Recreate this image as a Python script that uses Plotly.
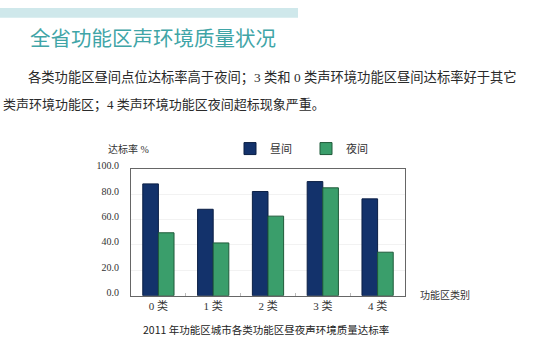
import plotly.graph_objects as go

categories = ["0 类", "1 类", "2 类", "3 类", "4 类"]
day_values = [88.0, 68.0, 82.0, 89.8, 76.2]
night_values = [49.5, 41.5, 62.6, 84.9, 34.2]
y_ticks = [0, 20, 40, 60, 80, 100]
y_tick_labels = ["0.0", "20.0", "40.0", "60.0", "80.0", "100.0"]

W, H = 545, 360
serif = "Liberation Serif, Noto Sans CJK SC, serif"
cjk = "Noto Sans CJK SC, sans-serif"

fig = go.Figure()
fig.add_trace(go.Bar(name="昼间", x=categories, y=day_values,
                     marker=dict(color="#13326b", line=dict(color="#0b1f45", width=1))))
fig.add_trace(go.Bar(name="夜间", x=categories, y=night_values,
                     marker=dict(color="#3a9e6b", line=dict(color="#1f5a3a", width=1))))

x0, x1 = 131, 405
yb, yt = 296.7, 165.7

fig.update_layout(
    width=W, height=H,
    margin=dict(l=0, r=0, t=0, b=0),
    paper_bgcolor="white", plot_bgcolor="white",
    barmode="group", bargap=0.43, bargroupgap=0,
    showlegend=True,
    legend=dict(orientation="h", x=230 / W, y=1 - 145 / H, yanchor="middle", xanchor="left",
                entrywidth=31, entrywidthmode="pixels",
                font=dict(family=cjk, size=11, color="#333"), bgcolor="rgba(0,0,0,0)"),
    xaxis=dict(domain=[x0 / W, x1 / W], showline=True, linecolor="#666", linewidth=1,
               mirror=True, ticks="inside", tickson="boundaries", ticklen=3, tickcolor="#bbb",
               tickfont=dict(family=serif, size=11, color="#333"), showgrid=False),
    yaxis=dict(domain=[1 - yb / H, 1 - yt / H], range=[0, 100], tickvals=y_ticks,
               ticktext=y_tick_labels, showline=True, linecolor="#666", linewidth=1, mirror=True,
               showgrid=True, gridcolor="#f2f2f2", ticks="", ticklabelstandoff=9,
               ticklabelshift=-3,
               tickfont=dict(family=serif, size=10, color="#333"), zeroline=False),
    font=dict(family=cjk),
)

# header bar
fig.add_shape(type="rect", xref="paper", yref="paper", x0=0, x1=298 / W, y0=1 - 10 / H, y1=1,
              fillcolor="#cfe8eb", line=dict(width=0), layer="below")

ann = [
    dict(text="全省功能区声环境质量状况", x=28 / W, y=1 - 30 / H, xanchor="left", yanchor="middle",
         font=dict(family=cjk, size=20.5, color="#3fa5a7")),
    dict(text="各类功能区昼间点位达标率高于夜间；3 类和 0 类声环境功能区昼间达标率好于其它",
         x=26 / W, y=1 - 72 / H, xanchor="left", yanchor="middle",
         font=dict(family=serif, size=13.3, color="#2a2a2a")),
    dict(text="类声环境功能区；4 类声环境功能区夜间超标现象严重。",
         x=1 / W, y=1 - 100 / H, xanchor="left", yanchor="middle",
         font=dict(family=serif, size=13, color="#2a2a2a")),
    dict(text="达标率 %", x=106 / W, y=1 - 145 / H, xanchor="left", yanchor="middle",
         font=dict(family=serif, size=10, color="#333")),
    dict(text="功能区类别", x=418 / W, y=1 - 296 / H, xanchor="left", yanchor="middle",
         font=dict(family=cjk, size=10, color="#333")),
    dict(text="2011 年功能区城市各类功能区昼夜声环境质量达标率", x=266 / W, y=1 - 332 / H,
         xanchor="center", yanchor="middle", font=dict(family=cjk, size=10.5, color="#222")),
]
for a in ann:
    a.update(xref="paper", yref="paper", showarrow=False)
    fig.add_annotation(**a)

fig.write_html("out.html", config={"displayModeBar": False},
               post_script="document.body.style.margin='0';")
